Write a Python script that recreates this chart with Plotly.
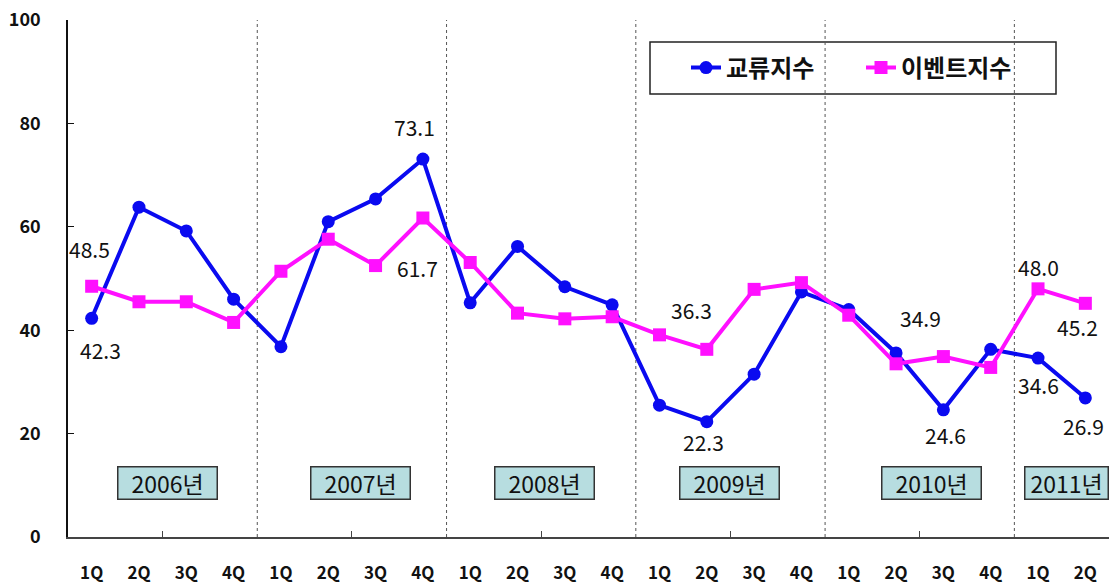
import plotly.graph_objects as go

quarters = ["1Q", "2Q", "3Q", "4Q"] * 5 + ["1Q", "2Q"]
years = ["2006년", "2007년", "2008년", "2009년", "2010년", "2011년"]
exchange_idx = [42.3, 63.8, 59.2, 46.0,
                36.8, 61.0, 65.4, 73.1,
                45.3, 56.2, 48.4, 44.9,
                25.5, 22.3, 31.5, 47.4,
                44.0, 35.6, 24.6, 36.3,
                34.6, 26.9]
event_idx = [48.5, 45.5, 45.5, 41.5,
             51.4, 57.6, 52.5, 61.7,
             53.1, 43.3, 42.2, 42.6,
             39.1, 36.3, 47.9, 49.2,
             42.9, 33.5, 34.9, 32.8,
             48.0, 45.2]
series_names = ["교류지수", "이벤트지수"]

FONT = "Noto Sans CJK KR, Noto Sans, sans-serif"
BLUE = "#0a0af0"
PINK = "#ff10ff"
x = list(range(len(quarters)))

fig = go.Figure()
fig.add_trace(go.Scatter(x=x, y=exchange_idx, name=series_names[0], mode="lines+markers",
                         line=dict(color=BLUE, width=4),
                         marker=dict(symbol="circle", size=13, color=BLUE)))
fig.add_trace(go.Scatter(x=x, y=event_idx, name=series_names[1], mode="lines+markers",
                         line=dict(color=PINK, width=4),
                         marker=dict(symbol="square", size=13, color=PINK)))
# invisible trace for mid-year ticks
mid_ticks = [i * 4 + 1.5 for i in range(len(years))]
fig.add_trace(go.Scatter(x=mid_ticks, y=[None] * len(mid_ticks), xaxis="x2",
                         showlegend=False, hoverinfo="skip"))

shapes = []
for b in range(1, len(years)):
    shapes.append(dict(type="line", xref="x", yref="y", x0=b * 4 - 0.5, x1=b * 4 - 0.5,
                       y0=0, y1=100, line=dict(color="#555555", width=1, dash="dot"), layer="below"))
# legend frame
shapes.append(dict(type="rect", xref="paper", yref="paper",
                   x0=(650 - 68) / 1041, x1=(1056 - 68) / 1041,
                   y0=1 - (94 - 20) / 517, y1=1 - (42 - 20) / 517,
                   fillcolor="white", line=dict(color="#222222", width=1.5), layer="below"))

annotations = []
# data labels: (series, index, xshift, yshift)
label_spec = [
    (exchange_idx, 0, 9, -32), (event_idx, 0, -2, 37),
    (exchange_idx, 7, -8, 32), (event_idx, 7, -5, -50),
    (event_idx, 13, -15, 39), (exchange_idx, 13, -3, -20),
    (event_idx, 18, -23, 39), (exchange_idx, 18, 2, -25),
    (event_idx, 20, 0, 22), (exchange_idx, 20, 0, -27),
    (event_idx, 21, -8, -24), (exchange_idx, 21, -2, -28),
]
for ser, i, xs, ys in label_spec:
    annotations.append(dict(x=i, y=ser[i], xref="x", yref="y", text=f"{ser[i]:.1f}",
                            showarrow=False, xshift=xs, yshift=ys,
                            font=dict(family=FONT, size=21, color="#111111")))
year_pos = [1.6, 5.69, 9.58, 13.49, 17.74, 20.6]
year_w = [96, 96, 96, 96, 96, 80]
for yr, px, w in zip(years, year_pos, year_w):
    annotations.append(dict(x=px, y=10.4, xref="x", yref="y", text=yr, showarrow=False,
                            width=w, height=29, bgcolor="#b7dde0", bordercolor="#333333",
                            borderwidth=1.5, borderpad=1,
                            font=dict(family=FONT, size=23, color="#111111")))

fig.update_layout(
    width=1109, height=585,
    margin=dict(l=68, r=0, t=20, b=48, autoexpand=False),
    paper_bgcolor="white", plot_bgcolor="white",
    showlegend=True,
    legend=dict(orientation="h", x=(686 - 68) / 1041, xanchor="left",
                y=1 - (68 - 20) / 517, yanchor="middle",
                bgcolor="rgba(0,0,0,0)", borderwidth=0,
                entrywidth=130,
                font=dict(family=FONT, size=24, color="#111111", weight="bold")),
    xaxis=dict(range=[-0.5, len(quarters) - 0.5], tickvals=x, ticktext=quarters,
               showgrid=False, zeroline=False, showline=True, linecolor="#444444", linewidth=1.5,
               ticks="", ticklabelstandoff=20, automargin=False,
               tickfont=dict(family=FONT, size=17, color="#111111", weight="bold")),
    xaxis2=dict(range=[-0.5, len(quarters) - 0.5], overlaying="x", anchor="y",
                tickvals=mid_ticks, ticks="inside", ticklen=6, tickcolor="#444444",
                showticklabels=False, showgrid=False, zeroline=False, showline=False),
    yaxis=dict(range=[0, 100], tickvals=[0, 20, 40, 60, 80, 100], automargin=False,
               showgrid=False, zeroline=False, showline=True, linecolor="#111111", linewidth=1.5,
               ticks="inside", ticklen=6, tickcolor="#111111", ticklabelstandoff=22,
               tickfont=dict(family=FONT, size=18, color="#111111", weight="bold")),
    shapes=shapes, annotations=annotations,
)
fig.write_html("out.html", config={"displayModeBar": False},
               post_script="document.body.style.margin='0px';document.body.style.overflow='hidden';")
